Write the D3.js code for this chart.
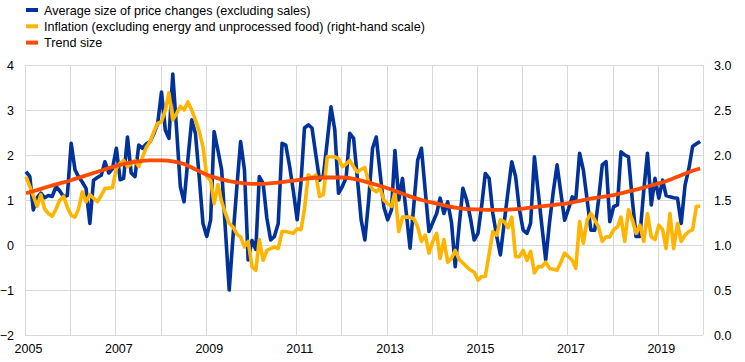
<!DOCTYPE html>
<html>
<head>
<meta charset="utf-8">
<script src="https://cdn.jsdelivr.net/npm/d3@7"></script>
<style>
body { margin: 0; background: #fff; }
text { font-family: Arial, "Liberation Sans", sans-serif; }
</style>
</head>
<body>
<svg id="chart" width="745" height="362"></svg>
<script>
// monthly, Jan 2005 - Dec 2019
var avgSize = [
	1.63,1.52,0.78,1.05,1.15,1.05,1.1,1.08,1.3,1.2,1.07,1.1,
	2.26,1.67,1.52,1.4,1.26,0.48,1.44,1.5,1.55,1.85,1.6,1.7,
	2.15,1.45,1.48,2.4,1.6,1.52,2.22,2.15,2.25,2.3,2.48,2.7,
	3.4,2.55,2.37,3.8,2.6,1.3,0.96,1.9,2.78,2.48,1.5,0.48,
	0.19,0.56,2.52,2.1,1.67,0.3,-1.0,0.2,1.3,2.3,1.67,-0.33,
	0.1,-0.1,1.52,1.37,0.6,0.11,0.19,0.48,2.26,2.22,1.75,1.2,
	0.56,1.4,2.6,2.67,2.6,2.0,1.44,1.55,2.3,3.07,2.56,1.15,
	1.3,1.5,2.48,2.37,1.5,0.56,0.11,1.0,2.15,2.4,1.6,0.85,
	0.56,0.78,2.1,1.0,1.48,0.7,-0.07,0.9,1.89,2.15,1.2,0.3,
	0.5,0.7,1.04,0.7,0.96,0.5,-0.48,0.4,1.26,1.0,0.6,0.11,
	0.26,0.9,1.59,1.48,0.7,0.2,-0.22,0.5,1.2,1.85,1.52,0.8,
	0.33,0.26,0.48,1.96,1.19,0.4,-0.33,0.5,1.2,1.78,1.15,0.55,
	0.8,1.07,1.0,2.04,1.67,1.0,0.33,0.33,1.0,1.78,1.85,0.52,
	0.85,0.89,2.07,2.0,1.96,1.0,0.19,0.19,1.2,2.04,0.89,1.48,
	1.04,1.44,1.1,1.07,1.05,1.04,0.48,1.33,1.7,2.19,2.25,2.3
];
var inflation = [
	1.76,1.65,1.55,1.43,1.56,1.4,1.35,1.32,1.4,1.5,1.54,1.42,
	1.33,1.31,1.4,1.59,1.48,1.56,1.52,1.48,1.55,1.63,1.63,1.64,
	1.85,1.91,1.94,1.87,1.9,1.94,1.87,1.98,2.09,2.15,2.26,2.35,
	2.37,2.5,2.69,2.39,2.46,2.54,2.5,2.59,2.5,2.39,2.26,2.09,
	1.76,1.72,1.46,1.67,1.48,1.35,1.24,1.2,1.12,1.09,0.98,1.04,
	0.76,0.72,1.06,0.83,0.94,0.96,0.98,0.96,1.15,1.15,1.14,1.13,
	1.18,1.17,1.4,1.78,1.74,1.78,1.54,1.56,1.98,1.98,1.98,1.96,
	1.87,1.9,1.94,1.87,1.81,1.84,1.86,1.69,1.62,1.59,1.63,1.5,
	1.46,1.43,1.59,1.15,1.31,1.31,1.31,1.29,1.2,1.04,1.11,0.91,
	1.04,1.13,0.85,1.06,0.81,0.85,0.94,0.84,0.8,0.76,0.72,0.7,
	0.61,0.65,0.65,0.9,1.15,1.11,1.28,1.26,1.19,1.31,0.87,0.87,
	0.94,0.83,0.93,0.69,0.76,0.76,0.81,0.74,0.73,0.72,0.81,0.91,
	0.87,0.83,0.74,1.26,1.02,1.28,1.35,1.28,1.2,1.04,1.09,1.09,
	1.17,1.2,1.31,1.04,1.39,1.28,1.13,1.22,1.04,1.35,1.09,1.06,
	1.22,1.17,0.96,1.35,0.96,1.24,1.04,1.11,1.15,1.17,1.43,1.43
];
// quarterly readings, last one Dec 2019
var trendSize = [
	1.15,1.22,1.3,1.37, 1.44,1.52,1.6,1.68, 1.76,1.82,1.86,1.88,
	1.88,1.86,1.8,1.68, 1.56,1.48,1.42,1.38, 1.36,1.36,1.38,1.41,
	1.44,1.48,1.5,1.5, 1.5,1.47,1.41,1.34, 1.26,1.17,1.08,1.0,
	0.94,0.88,0.83,0.8, 0.79,0.78,0.78,0.79, 0.81,0.84,0.87,0.9,
	0.93,0.98,1.03,1.07, 1.11,1.17,1.23,1.3, 1.37,1.45,1.55,1.65, 1.7
];
var trendMonth = d3.range(0, 180, 3).concat([179]);
var leftTicks = [-2,-1,0,1,2,3,4];
var rightTicks = [0,0.5,1,1.5,2,2.5,3];
var yearLabels = [2005,2007,2009,2011,2013,2015,2017,2019];
var legendNames = ["Average size of price changes (excluding sales)",
	"Inflation (excluding energy and unprocessed food) (right-hand scale)",
	"Trend size"];
var colors = ["#003299", "#FFB400", "#FF4B00"];

var svg = d3.select("#chart");
var plotL = 25, plotR = 703, plotT = 65, plotB = 335;

var x = d3.scaleTime()
	.domain([new Date(2005,0,1), new Date(2020,0,1)])
	.range([plotL, plotR]);
var yL = d3.scaleLinear().domain([-2,4]).range([plotB, plotT]);
var yR = d3.scaleLinear().domain([0,3]).range([plotB, plotT]);

function monthDate(m){ return new Date(2005, m, 9); }

// grid
var g = svg.append("g");
g.selectAll(".hg").data(leftTicks).enter().append("line")
	.attr("x1", plotL).attr("x2", plotR)
	.attr("y1", function(d){return Math.round(yL(d))+0.5;})
	.attr("y2", function(d){return Math.round(yL(d))+0.5;})
	.attr("stroke", "#d9d9d9").attr("stroke-width", 1);
g.selectAll(".vg").data(d3.range(2005, 2021)).enter().append("line")
	.attr("x1", function(d){return Math.round(x(new Date(d,0,1)))+0.5;})
	.attr("x2", function(d){return Math.round(x(new Date(d,0,1)))+0.5;})
	.attr("y1", plotT).attr("y2", plotB)
	.attr("stroke", "#d9d9d9").attr("stroke-width", 1);

// axes
var axL = d3.axisLeft(yL).tickValues(leftTicks).tickSize(0).tickPadding(11)
	.tickFormat(d3.format("d"));
svg.append("g").attr("transform", "translate(" + plotL + ",0)").call(axL)
	.call(function(a){ a.select(".domain").remove(); });
var axR = d3.axisRight(yR).tickValues(rightTicks).tickSize(0).tickPadding(11)
	.tickFormat(d3.format(".1f"));
svg.append("g").attr("transform", "translate(" + plotR + ",0)").call(axR)
	.call(function(a){ a.select(".domain").remove(); });
var axB = d3.axisBottom(x).tickValues(yearLabels.map(function(d){return new Date(d,0,1);}))
	.tickSize(0).tickPadding(9).tickFormat(d3.timeFormat("%Y"));
svg.append("g").attr("transform", "translate(3," + plotB + ")").call(axB)
	.call(function(a){ a.select(".domain").remove(); });
svg.selectAll(".tick text").attr("font-size", 12.5).attr("fill", "#000")
	.style("font-family", "Arial, 'Liberation Sans', sans-serif");

// lines
var lineL = d3.line()
	.x(function(d,i){return x(monthDate(i));})
	.y(function(d){return yL(d);});
var lineR = d3.line()
	.x(function(d,i){return x(monthDate(i));})
	.y(function(d){return yR(d);});
var lineT = d3.line().curve(d3.curveMonotoneX)
	.x(function(d,i){return x(monthDate(trendMonth[i]));})
	.y(function(d){return yL(d);});

svg.append("path").datum(avgSize).attr("d", lineL)
	.attr("fill", "none").attr("stroke", colors[0]).attr("stroke-width", 3.6)
	.attr("stroke-linejoin", "round");
svg.append("path").datum(inflation).attr("d", lineR)
	.attr("fill", "none").attr("stroke", colors[1]).attr("stroke-width", 3.6)
	.attr("stroke-linejoin", "round");
svg.append("path").datum(trendSize).attr("d", lineT)
	.attr("fill", "none").attr("stroke", colors[2]).attr("stroke-width", 3.8);

// legend
var lg = svg.selectAll(".lg").data(legendNames).enter().append("g")
	.attr("transform", function(d,i){return "translate(26," + (10 + i*16.3) + ")";});
lg.append("rect").attr("x", 0).attr("y", -2).attr("width", 12).attr("height", 4)
	.attr("fill", function(d,i){return colors[i];});
lg.append("text").attr("x", 18).attr("y", 4.5).attr("font-size", 12.6).attr("fill", "#000")
	.text(function(d){return d;});
</script>
</body>
</html>
